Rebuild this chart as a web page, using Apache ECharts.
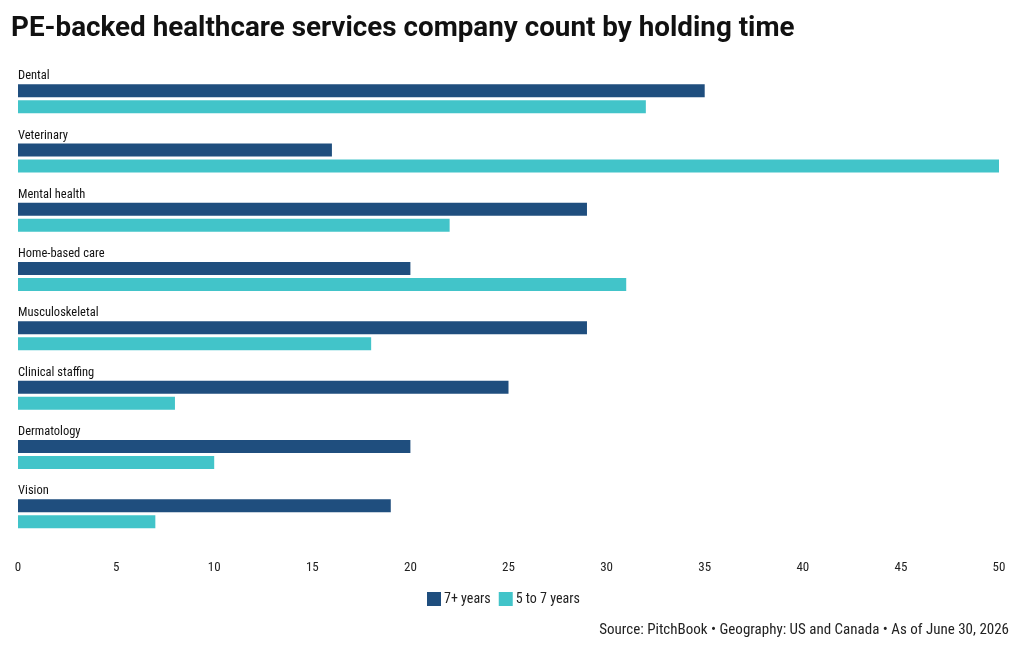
<!DOCTYPE html>
<html><head><meta charset="utf-8">
<script src="https://cdn.jsdelivr.net/npm/echarts@6/dist/echarts.min.js"></script>
<style>html,body{margin:0;padding:0;background:#fff}#c{width:1020px;height:650px}</style>
</head><body><div id="c"></div>
<script>
const categories = ["Dental","Veterinary","Mental health","Home-based care","Musculoskeletal","Clinical staffing","Dermatology","Vision"];
const seriesNames = ["7+ years","5 to 7 years"];
const values7plus = [35,16,29,20,29,25,20,19];
const values5to7 = [32,50,22,31,18,8,10,7];
const xTicks = [0,5,10,15,20,25,30,35,40,45,50];

const condensed = '"Roboto Condensed","Liberation Sans Narrow","DejaVu Sans Condensed",Roboto,sans-serif';
const chart = echarts.init(document.getElementById('c'));
chart.setOption({
  animation:false,
  title:[{
    text:'PE-backed healthcare services company count by holding time',
    left:11, top:15, padding:0,
    textStyle:{fontFamily:'Roboto',fontWeight:'bold',fontSize:27.8,color:'#111'}
  },{
    text:'Source: PitchBook • Geography: US and Canada • As of June 30, 2026',
    right:11, top:623, padding:0,
    textStyle:{fontFamily:condensed,fontWeight:'normal',fontSize:15,color:'#222'}
  }],
  legend:{
    data:seriesNames, top:592, left:427,
    itemWidth:14, itemHeight:14, itemGap:8, padding:0,
    icon:'rect',
    textStyle:{fontFamily:condensed,fontSize:14,color:'#222',padding:[0,0,0,-2]}
  },
  grid:{left:18,right:21,top:69,height:474.4,containLabel:false},
  xAxis:{
    type:'value', min:0, max:50, interval:5,
    axisLine:{show:false}, axisTick:{show:false}, splitLine:{show:false},
    axisLabel:{fontFamily:condensed,fontSize:13,color:'#222',margin:18,
      formatter:v=>xTicks.includes(v)?String(v):''}
  },
  yAxis:{
    type:'category', data:categories, inverse:true,
    axisLine:{show:false}, axisTick:{show:false},
    axisLabel:{inside:true, align:'left', verticalAlign:'bottom', margin:0,
      padding:[0,0,16,0],
      fontFamily:condensed,fontSize:12.5,color:'#111'}
  },
  series:[
    {name:seriesNames[0],type:'bar',data:values7plus,barWidth:13,barGap:'23%',
     itemStyle:{color:'#1F4E7E'}},
    {name:seriesNames[1],type:'bar',data:values5to7,barWidth:13,barGap:'23%',
     itemStyle:{color:'#42C4C9'}}
  ]
});
</script></body></html>
